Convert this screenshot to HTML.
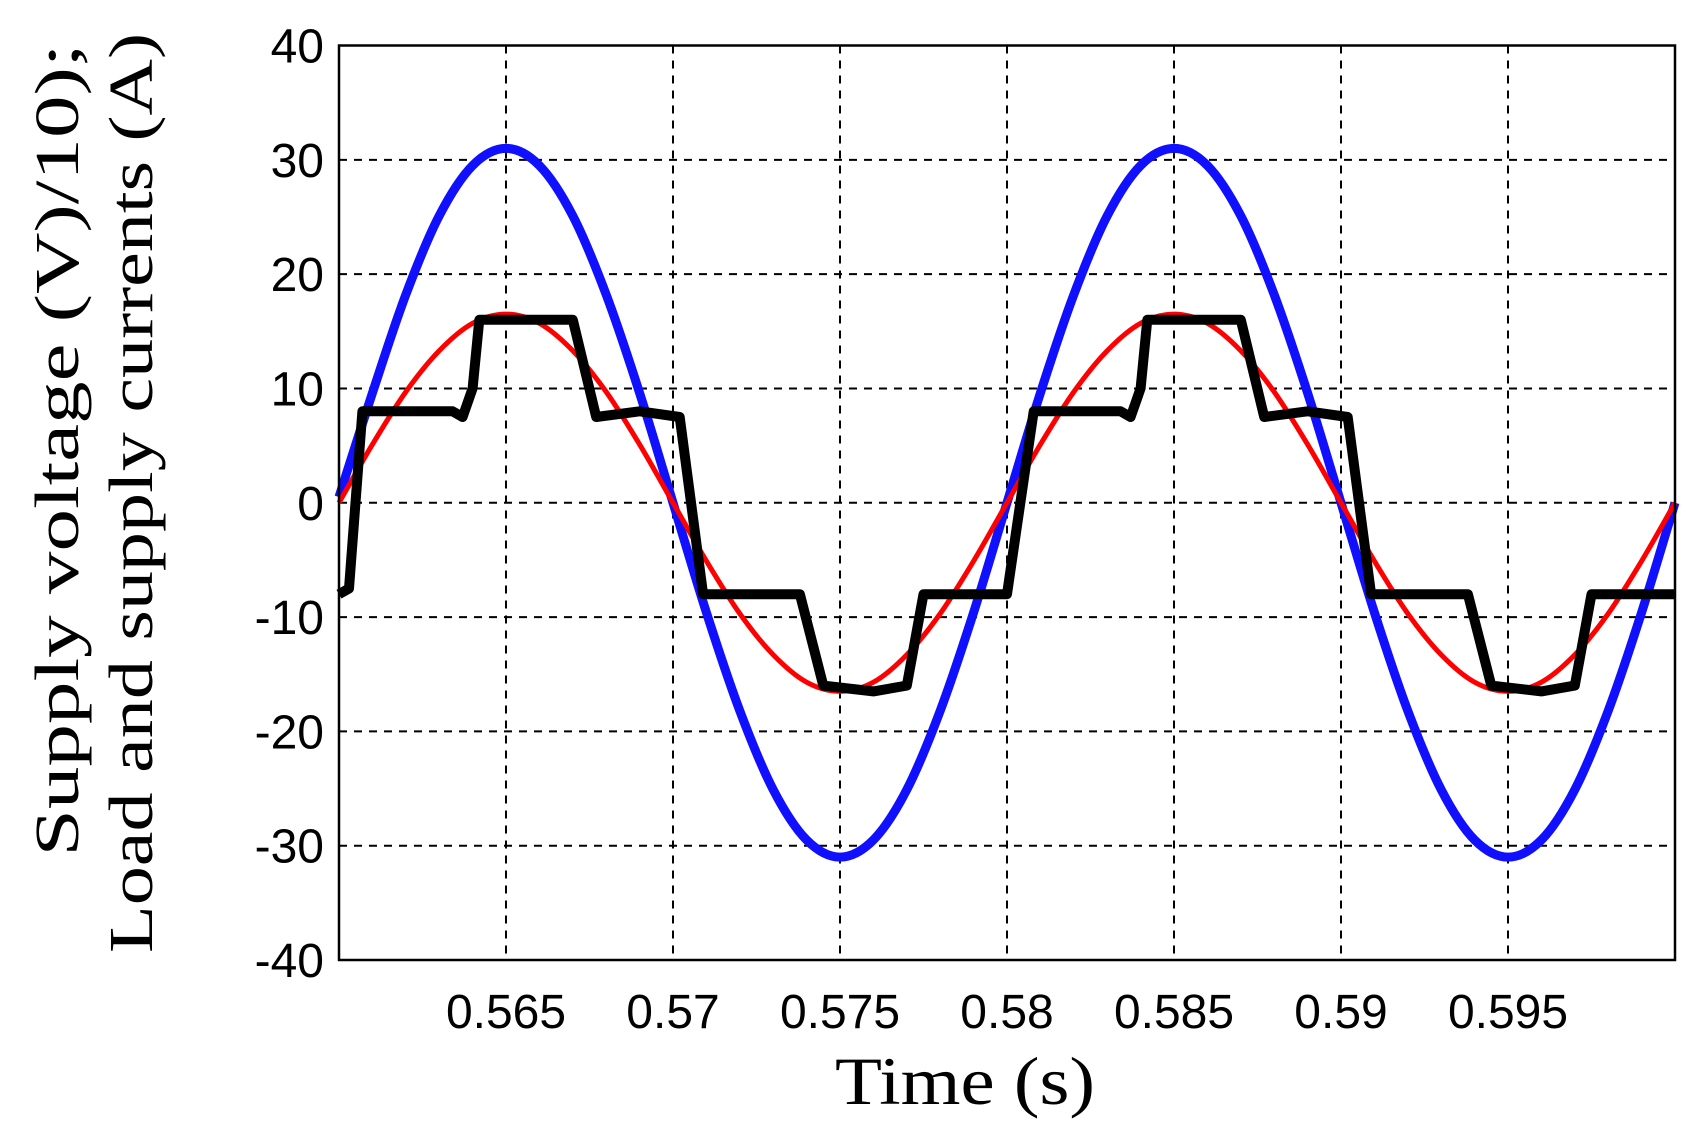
<!DOCTYPE html>
<html><head><meta charset="utf-8"><style>
html,body{margin:0;padding:0;background:#fff;}
svg text{font-family:"Liberation Sans",Arial,sans-serif;}
</style></head><body>
<svg id="chart" width="1691" height="1132" viewBox="0 0 1691 1132" xmlns="http://www.w3.org/2000/svg">
<g id="grid"></g>
<g id="series"></g>
<rect x="339" y="45.5" width="1336" height="914.5" fill="none" stroke="#000" stroke-width="2.5"/>
<g id="yticks"></g>
<g id="xticks"></g>
<text x="965" y="1104" text-anchor="middle" textLength="260" lengthAdjust="spacingAndGlyphs" style="font-family:'Liberation Serif',serif;font-size:68px">Time (s)</text>
<g transform="translate(0,0) rotate(-90)">
<text x="-450" y="78" text-anchor="middle" textLength="813" lengthAdjust="spacingAndGlyphs" style="font-family:'Liberation Serif',serif;font-size:62px">Supply voltage (V)/10);</text>
<text x="-493" y="152" text-anchor="middle" textLength="920" lengthAdjust="spacingAndGlyphs" style="font-family:'Liberation Serif',serif;font-size:62px">Load and supply currents (A)</text>
</g>
</svg>
<script>
const xTicks=[0.565,0.57,0.575,0.58,0.585,0.59,0.595];
const xTickLabels=["0.565","0.57","0.575","0.58","0.585","0.59","0.595"];
const yTicks=[40,30,20,10,0,-10,-20,-30,-40];
const yTickLabels=["40","30","20","10","0","-10","-20","-30","-40"];
const sampleTimes=[0.560,0.561,0.562,0.563,0.564,0.565,0.566,0.567,0.568,0.569,0.570,0.571,0.572,0.573,0.574,0.575,0.576,0.577,0.578,0.579,0.580,0.581,0.582,0.583,0.584,0.585,0.586,0.587,0.588,0.589,0.590,0.591,0.592,0.593,0.594,0.595,0.596,0.597,0.598,0.599,0.600];
const voltageValues=[0.5,9.6,18.2,25.1,29.5,31,29.5,25.1,18.2,9.6,0,-9.6,-18.2,-25.1,-29.5,-31,-29.5,-25.1,-18.2,-9.6,0,9.6,18.2,25.1,29.5,31,29.5,25.1,18.2,9.6,0,-9.6,-18.2,-25.1,-29.5,-31,-29.5,-25.1,-18.2,-9.6,0];
const loadCurrentValues=[0,5.1,9.7,13.3,15.7,16.5,15.7,13.3,9.7,5.1,0,-5.1,-9.7,-13.3,-15.7,-16.5,-15.7,-13.3,-9.7,-5.1,0,5.1,9.7,13.3,15.7,16.5,15.7,13.3,9.7,5.1,0,-5.1,-9.7,-13.3,-15.7,-16.5,-15.7,-13.3,-9.7,-5.1,0];
const stepTimes=[0.56,0.5603,0.5607,0.5634,0.5637,0.5640,0.5642,0.5670,0.5677,0.5690,0.5702,0.5709,0.5738,0.5745,0.5760,0.5770,0.5775,0.5800,0.5808,0.5834,0.5837,0.5840,0.5842,0.5870,0.5877,0.5890,0.5902,0.5909,0.5938,0.5945,0.5960,0.5970,0.5975,0.6];
const supplyCurrentValues=[-8,-7.5,8,8,7.5,10,16,16,7.5,8,7.5,-8,-8,-16,-16.5,-16,-8,-8,8,8,7.5,10,16,16,7.5,8,7.5,-8,-8,-16,-16.5,-16,-8,-8];

const X0=339,X1=1675,Y0=45.5,Y1=960;
const xs=t=>X0+(t-0.56)/0.04*(X1-X0);
const ys=v=>Y0+(40-v)/80*(Y1-Y0);
const NS="http://www.w3.org/2000/svg";
function mk(tag,attrs,parent){const e=document.createElementNS(NS,tag);for(const k in attrs)e.setAttribute(k,attrs[k]);parent.appendChild(e);return e;}
const grid=document.getElementById('grid');
xTicks.forEach(t=>{const l=mk('line',{x1:xs(t),x2:xs(t),y1:Y0,y2:Y1,stroke:'#000','stroke-width':2,'stroke-dasharray':'8,7'},grid);

});
yTicks.slice(1,-1).forEach(v=>{const l=mk('line',{x1:X0,x2:X1,y1:ys(v),y2:ys(v),stroke:'#000','stroke-width':2,'stroke-dasharray':'8,7'},grid);

});
const yt=document.getElementById('yticks');
yTicks.forEach((v,i)=>{const e=mk('text',{x:324,y:ys(v)+17,'text-anchor':'end','font-size':48},yt);e.textContent=yTickLabels[i];

});
const xt=document.getElementById('xticks');
xTicks.forEach((t,i)=>{const e=mk('text',{x:xs(t),y:1028,'text-anchor':'middle','font-size':48},xt);e.textContent=xTickLabels[i];

});
const ser=document.getElementById('series');
function pts(T,V){return T.map((t,i)=>xs(t).toFixed(1)+','+ys(V[i]).toFixed(1)).join(' ');}
function smooth(T,V){let d='M'+xs(T[0])+','+ys(V[0]);for(let i=0;i<T.length-1;i++){const p0=i>0?i-1:i,p3=i+2<T.length?i+2:i+1;
const c1x=xs(T[i])+(xs(T[i+1])-xs(T[p0]))/6,c1y=ys(V[i])+(ys(V[i+1])-ys(V[p0]))/6;
const c2x=xs(T[i+1])-(xs(T[p3])-xs(T[i]))/6,c2y=ys(V[i+1])-(ys(V[p3])-ys(V[i]))/6;
d+=` C${c1x},${c1y} ${c2x},${c2y} ${xs(T[i+1])},${ys(V[i+1])}`;}return d;}
const blue=mk('path',{d:smooth(sampleTimes,voltageValues),fill:'none',stroke:'#1010ff','stroke-width':9},ser);


const red=mk('path',{d:smooth(sampleTimes,loadCurrentValues),fill:'none',stroke:'#ff0000','stroke-width':5},ser);


const black=mk('polyline',{points:pts(stepTimes,supplyCurrentValues),fill:'none',stroke:'#000','stroke-width':10,'stroke-linejoin':'round'},ser);


</script>
</body></html>
